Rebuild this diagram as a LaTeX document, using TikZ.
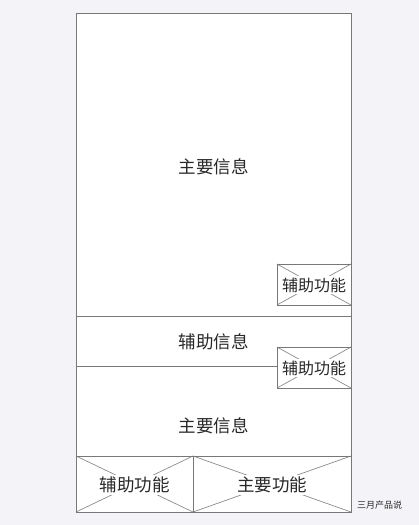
\documentclass[tikz,border=0pt]{standalone}
\usepackage{fontspec}
\newfontfamily\cjk{Noto Sans CJK SC}
\definecolor{pagebg}{RGB}{244,244,248}
\definecolor{framegray}{RGB}{120,120,120}
\definecolor{crossgray}{RGB}{140,140,140}
\definecolor{textgray}{RGB}{40,40,40}
\tikzset{
  frameline/.style={color=framegray, line width=0.9pt},
  crossline/.style={color=crossgray, line width=0.7pt},
  bigtext/.style={font=\cjk\fontsize{17.5}{20}\selectfont, text=textgray, inner sep=1pt},
  boxtext/.style={font=\cjk\fontsize{16}{19}\selectfont, text=textgray, fill=white, inner sep=2pt},
  marktext/.style={font=\cjk\fontsize{9}{11}\selectfont, text=textgray, inner sep=0pt}
}
\begin{document}
\begin{tikzpicture}[x=1pt,y=1pt,yscale=-1]
\useasboundingbox [fill=pagebg] (0,0) rectangle (419,525);

%Shape: Rectangle (screen)
\draw [frameline, fill=white] (76,13) rectangle (351,512);
%Straight Lines
\draw [frameline] (76,316) -- (351,316);
\draw [frameline] (76,366) -- (277,366);
\draw [frameline] (76,456) -- (351,456);
\draw [frameline] (193,456) -- (193,512);

%Shape: Cross boxes
\draw [crossline] (277,264) -- (351,305) (277,305) -- (351,264);
\draw [frameline] (277,264) rectangle (351,305);
\draw [crossline] (277,347) -- (351,388) (277,388) -- (351,347);
\draw [frameline] (277,347) rectangle (351,388);
\draw [crossline] (76,456) -- (193,512) (76,512) -- (193,456);
\draw [crossline] (193,456) -- (351,512) (193,512) -- (351,456);
\draw [frameline] (76,456) rectangle (351,512);
\draw [frameline] (193,456) -- (193,512);

% Text Node
\node [bigtext] (mainTop) at (213.5,167) {主要信息};
% Text Node
\node [bigtext] (auxInfo) at (213.5,342) {辅助信息};
% Text Node
\node [bigtext] (mainMid) at (213.5,426) {主要信息};
% Text Node
\node [boxtext] (auxFnA) at (314,285) {辅助功能};
% Text Node
\node [boxtext] (auxFnB) at (314,368) {辅助功能};
% Text Node
\node [boxtext, font=\cjk\fontsize{17.5}{20}\selectfont] (auxFnC) at (134.5,485) {辅助功能};
% Text Node
\node [boxtext, font=\cjk\fontsize{17.5}{20}\selectfont] (mainFn) at (272,485) {主要功能};
% Text Node
\node [marktext, anchor=west] (mark) at (357,505) {三月产品说};

\end{tikzpicture}
\end{document}
